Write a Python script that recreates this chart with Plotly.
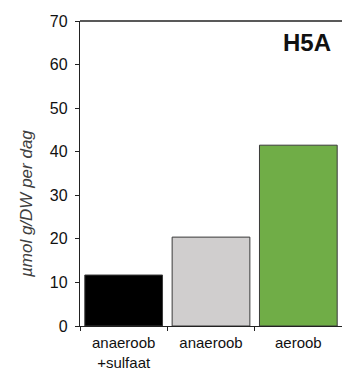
import plotly.graph_objects as go

categories = ["anaeroob<br>+sulfaat", "anaeroob", "aeroob"]
values = [11.7, 20.4, 41.5]
colors = ["#000000", "#d0cece", "#70ad47"]
y_ticks = [0, 10, 20, 30, 40, 50, 60, 70]

W, H = 342, 371
ml, mr, mt, mb = 80, 0, 21, 45

fig = go.Figure()
fig.add_trace(go.Bar(
    x=categories, y=values,
    marker=dict(color=colors, line=dict(color="#3a3a3a", width=1)),
    width=0.89,
))

font = "Liberation Sans, Arial, sans-serif"
fig.update_layout(
    width=W, height=H,
    margin=dict(l=ml, r=mr, t=mt, b=mb, pad=0),
    plot_bgcolor="white", paper_bgcolor="white",
    showlegend=False,
    font=dict(family=font, color="#222222"),
    xaxis=dict(
        type="category", tickson="boundaries", ticks="outside", ticklen=4,
        tickcolor="#222", showline=True, linecolor="#222", linewidth=1.3,
        showgrid=False, tickfont=dict(size=15, color="#111"),
        range=[-0.5, 2.5], ticklabelstandoff=3,
    ),
    yaxis=dict(
        range=[0, 70], tickvals=y_ticks, ticks="outside", ticklen=4,
        tickcolor="#222", showline=True, linecolor="#222", linewidth=1.3,
        showgrid=False, zeroline=False, tickfont=dict(size=16, color="#111"),
        ticklabelstandoff=4,
    ),
    shapes=[dict(type="line", xref="paper", yref="paper", x0=0, x1=1, y0=1, y1=1,
                 line=dict(color="#222", width=1.3))],
    annotations=[
        dict(text="<b>H5A</b>", xref="paper", yref="paper", x=0.965, y=0.93,
             xanchor="right", yanchor="middle", showarrow=False,
             font=dict(size=24, color="#111")),
        dict(text="<i>µmol g/DW per dag</i>", xref="paper", yref="paper",
             x=(26 - ml) / (W - ml - mr), y=(H - mb - 204) / (H - mt - mb),
             xanchor="center", yanchor="middle", textangle=-90, showarrow=False,
             font=dict(size=17, color="#404040")),
    ],
)
fig.write_html("out.html")
